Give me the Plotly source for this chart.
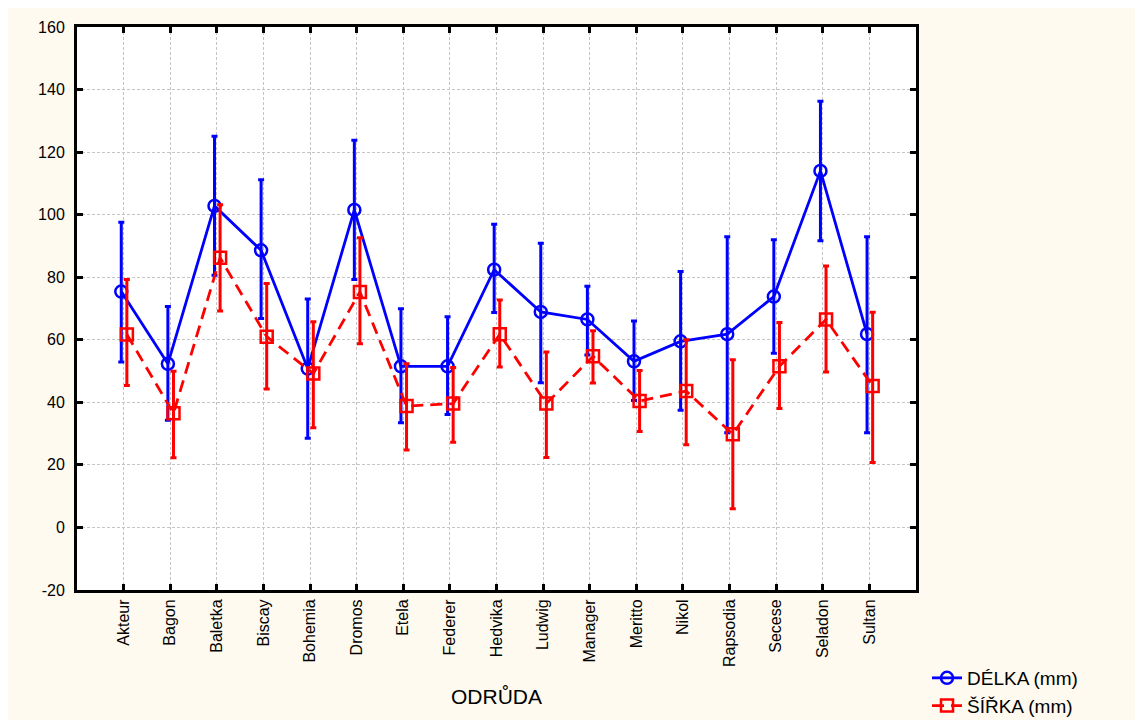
import plotly.graph_objects as go

categories = ["Akteur", "Bagon", "Baletka", "Biscay", "Bohemia", "Dromos", "Etela", "Federer",
              "Hedvika", "Ludwig", "Manager", "Meritto", "Nikol", "Rapsodia", "Secese", "Seladon", "Sultan"]

delka_mean = [75.4, 52.3, 102.8, 88.6, 50.8, 101.5, 51.5, 51.5, 82.4, 68.9, 66.5, 53.1, 59.5, 61.8, 73.8, 114.0, 61.8]
delka_upper = [97.6, 70.6, 125.1, 111.2, 73.0, 123.8, 69.9, 67.4, 96.9, 90.9, 77.1, 66.0, 81.8, 92.9, 92.0, 136.3, 92.9]
delka_lower = [52.9, 34.3, 80.6, 66.8, 28.5, 79.3, 33.5, 36.1, 68.7, 46.3, 55.1, 40.6, 37.5, 30.3, 55.7, 91.7, 30.3]

sirka_mean = [61.7, 36.5, 86.2, 61.0, 49.2, 75.3, 38.8, 39.6, 61.8, 39.6, 54.7, 40.4, 43.6, 29.8, 51.5, 66.5, 45.2]
sirka_upper = [79.3, 49.9, 103.2, 78.0, 65.8, 92.6, 52.3, 51.1, 72.7, 56.1, 62.9, 50.2, 60.0, 53.6, 65.5, 83.6, 68.8]
sirka_lower = [45.4, 22.3, 69.2, 44.3, 31.9, 58.7, 24.8, 27.2, 51.3, 22.4, 46.2, 30.7, 26.4, 6.0, 38.0, 49.7, 20.8]

y_ticks = [-20, 0, 20, 40, 60, 80, 100, 120, 140, 160]

idx = list(range(len(categories)))
x_blue = [i - 0.05 for i in idx]
x_red = [i + 0.07 for i in idx]

BLUE = "#0000FF"
RED = "#FF0000"

fig = go.Figure()

fig.add_trace(go.Scatter(
    x=x_blue, y=delka_mean, name="DÉLKA (mm)", mode="lines+markers",
    line=dict(color=BLUE, width=2.8),
    marker=dict(symbol="circle-open", size=12, color=BLUE, line=dict(width=2.5, color=BLUE)),
    error_y=dict(type="data", symmetric=False,
                 array=[u - m for u, m in zip(delka_upper, delka_mean)],
                 arrayminus=[m - l for m, l in zip(delka_mean, delka_lower)],
                 color=BLUE, thickness=3, width=3),
))

fig.add_trace(go.Scatter(
    x=x_red, y=sirka_mean, name="ŠÍŘKA (mm)", mode="lines+markers",
    line=dict(color=RED, width=2.8, dash="12px,7px"),
    marker=dict(symbol="square-open", size=12, color=RED, line=dict(width=2.5, color=RED)),
    error_y=dict(type="data", symmetric=False,
                 array=[u - m for u, m in zip(sirka_upper, sirka_mean)],
                 arrayminus=[m - l for m, l in zip(sirka_mean, sirka_lower)],
                 color=RED, thickness=3, width=3),
))

# figure coordinates (page minus 8px body margin)
W, H = 1135, 712
L, R, T, B = 69, 908, 19, 582
pw, ph = R - L, B - T

def px_x(p):
    return (p - L) / pw

def px_y(p):
    return (B - p) / ph

fig.update_layout(
    width=W, height=H,
    margin=dict(l=L, r=W - R, t=T, b=H - B, pad=0, autoexpand=False),
    paper_bgcolor="#FFFAEF",
    plot_bgcolor="white",
    font=dict(family="Liberation Sans, Arial, sans-serif", color="black", size=16),
    showlegend=True,
    legend=dict(x=px_x(919), y=px_y(651), xanchor="left", yanchor="top",
                bgcolor="rgba(0,0,0,0)", font=dict(size=19), tracegroupgap=0,
                itemwidth=30),
)

grid = dict(showgrid=True, gridcolor="#C4C4C4", griddash="3px,2px", gridwidth=1)
frame = dict(showline=True, linecolor="black", linewidth=3, mirror="ticks",
             ticks="inside", ticklen=6, tickwidth=2.5, tickcolor="black", zeroline=False,
             automargin=False)

fig.update_xaxes(
    range=[-1, len(categories)],
    tickvals=idx, ticktext=categories, tickangle=-90,
    tickfont=dict(size=16),
    title=dict(text="ODRŮDA", font=dict(size=21), standoff=24),
    **grid, **frame,
)

fig.update_yaxes(
    range=[-20, 160], tickvals=y_ticks, ticktext=[str(v) for v in y_ticks],
    tickfont=dict(size=16), ticklabelstandoff=6,
    **grid, **frame,
)

fig.write_html("out.html")
